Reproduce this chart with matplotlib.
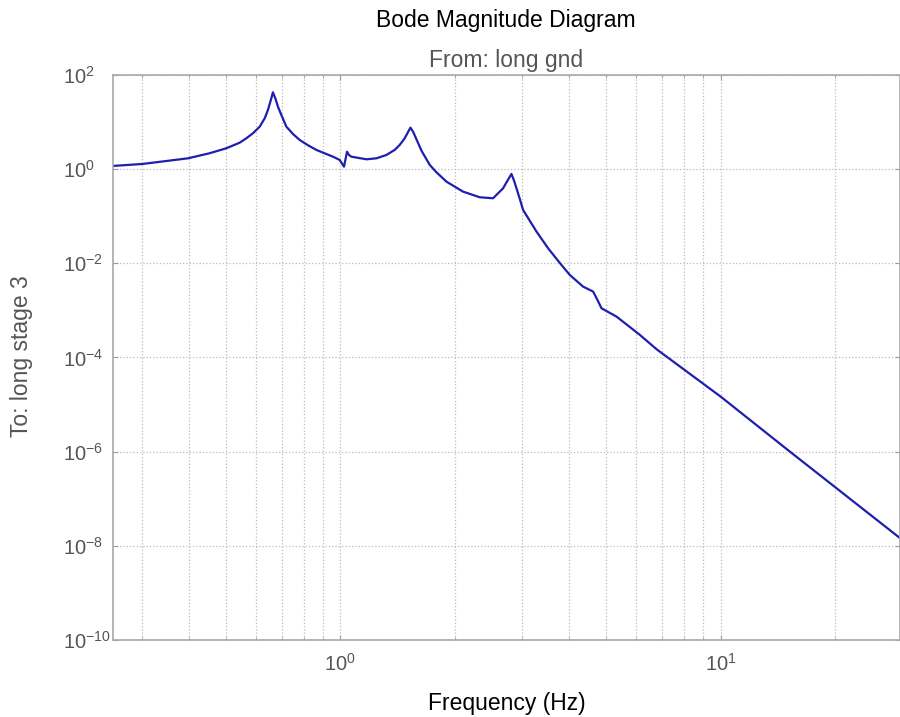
import numpy as np
import matplotlib
matplotlib.use('Agg')
import matplotlib.pyplot as plt
from matplotlib.ticker import FixedLocator, LogLocator, NullFormatter

plt.rcParams['font.family'] = ['Liberation Sans', 'DejaVu Sans']
plt.rcParams['mathtext.fontset'] = 'custom'
plt.rcParams['mathtext.rm'] = 'Liberation Sans'

# 频率 (Hz) 和幅值，读自原图
freq = [0.2518, 0.3018, 0.3972, 0.4529, 0.5012, 0.5433, 0.5657, 0.5888, 0.6133,
        0.6322, 0.6448, 0.6544, 0.6646, 0.6757, 0.6851, 0.6995, 0.7209, 0.7502,
        0.7815, 0.8216, 0.8647, 0.9561, 0.9958, 1.022, 1.041, 1.0534, 1.069,
        1.171, 1.244, 1.321, 1.389, 1.432, 1.476, 1.528, 1.553, 1.634, 1.718,
        1.789, 1.901, 2.102, 2.326, 2.521, 2.679, 2.748, 2.818, 2.858, 2.905,
        2.964, 3.024, 3.280, 3.518, 3.776, 4.012, 4.349, 4.621, 4.718, 4.862,
        5.325, 6.133, 6.784, 10.0, 15.22, 29.64]
mag = [1.17, 1.29, 1.70, 2.18, 2.78, 3.65, 4.53, 5.78, 7.99,
       12.0, 18.1, 27.1, 42.9, 30.5, 21.2, 14.1, 7.99, 5.59,
       4.17, 3.22, 2.56, 1.84, 1.57, 1.13, 2.35, 2.00, 1.84,
       1.62, 1.70, 2.00, 2.56, 3.27, 4.53, 7.61, 6.25, 2.47, 1.23,
       0.859, 0.543, 0.333, 0.253, 0.241, 0.393, 0.562, 0.791, 0.590, 0.393,
       0.233, 0.136, 0.0471, 0.0209, 0.0102, 5.67e-3, 3.20e-3, 2.51e-3, 1.82e-3, 1.11e-3,
       7.38e-4, 3.02e-4, 1.50e-4, 1.48e-5, 1.00e-6, 1.46e-8]

ytick_exp = [2, 0, -2, -4, -6, -8, -10]
xtick_exp = [0, 1]

fig = plt.figure(figsize=(9, 7.17), dpi=100)
ax = fig.add_axes([0.1252, 0.1074, 0.8748, 0.788])

ax.loglog(freq, mag, color='#1e1eb0', lw=1.6)

ax.set_xlim(0.2518, 29.64)
ax.set_ylim(1e-10, 1e2)

gray = '#555555'
ax.set_yticks([10.0 ** e for e in ytick_exp])
ax.set_yticklabels([r'$\mathregular{10^{%d}}$' % e for e in ytick_exp], ha='left')
ax.yaxis.set_minor_locator(FixedLocator([]))
ax.set_xticks([10.0 ** e for e in xtick_exp])
ax.set_xticklabels([r'$\mathregular{10^{%d}}$' % e for e in xtick_exp])
ax.xaxis.set_minor_locator(LogLocator(base=10, subs=np.arange(2, 10)))
ax.xaxis.set_minor_formatter(NullFormatter())
ax.set_xlim(0.2518, 29.64)
ax.set_ylim(1e-10, 1e2)

ax.grid(True, which='both', ls=':', color='#bbbbbb', lw=0.9)
ax.tick_params(which='both', direction='in', top=True, right=True,
               colors='#999999', labelcolor=gray, labelsize=14.5)
ax.tick_params(axis='y', pad=36)
ax.tick_params(axis='x', pad=9)
for s in ax.spines.values():
    s.set_color('#a8a8a8')
    s.set_linewidth(1.2)

fig.text(0.5617, 0.972, 'Bode Magnitude Diagram', ha='center', va='center',
         fontsize=16.5, color='black')
ax.set_title('From: long gnd', color=gray, fontsize=16.5, pad=6)
fig.text(0.5627, 0.0098, 'Frequency (Hz)', ha='center', va='baseline',
         fontsize=16.5, color='black')
fig.text(0.0239, 0.5028, 'To: long stage 3', ha='center', va='center',
         rotation=90, fontsize=16.5, color=gray)

fig.savefig('out.png', dpi=100)
